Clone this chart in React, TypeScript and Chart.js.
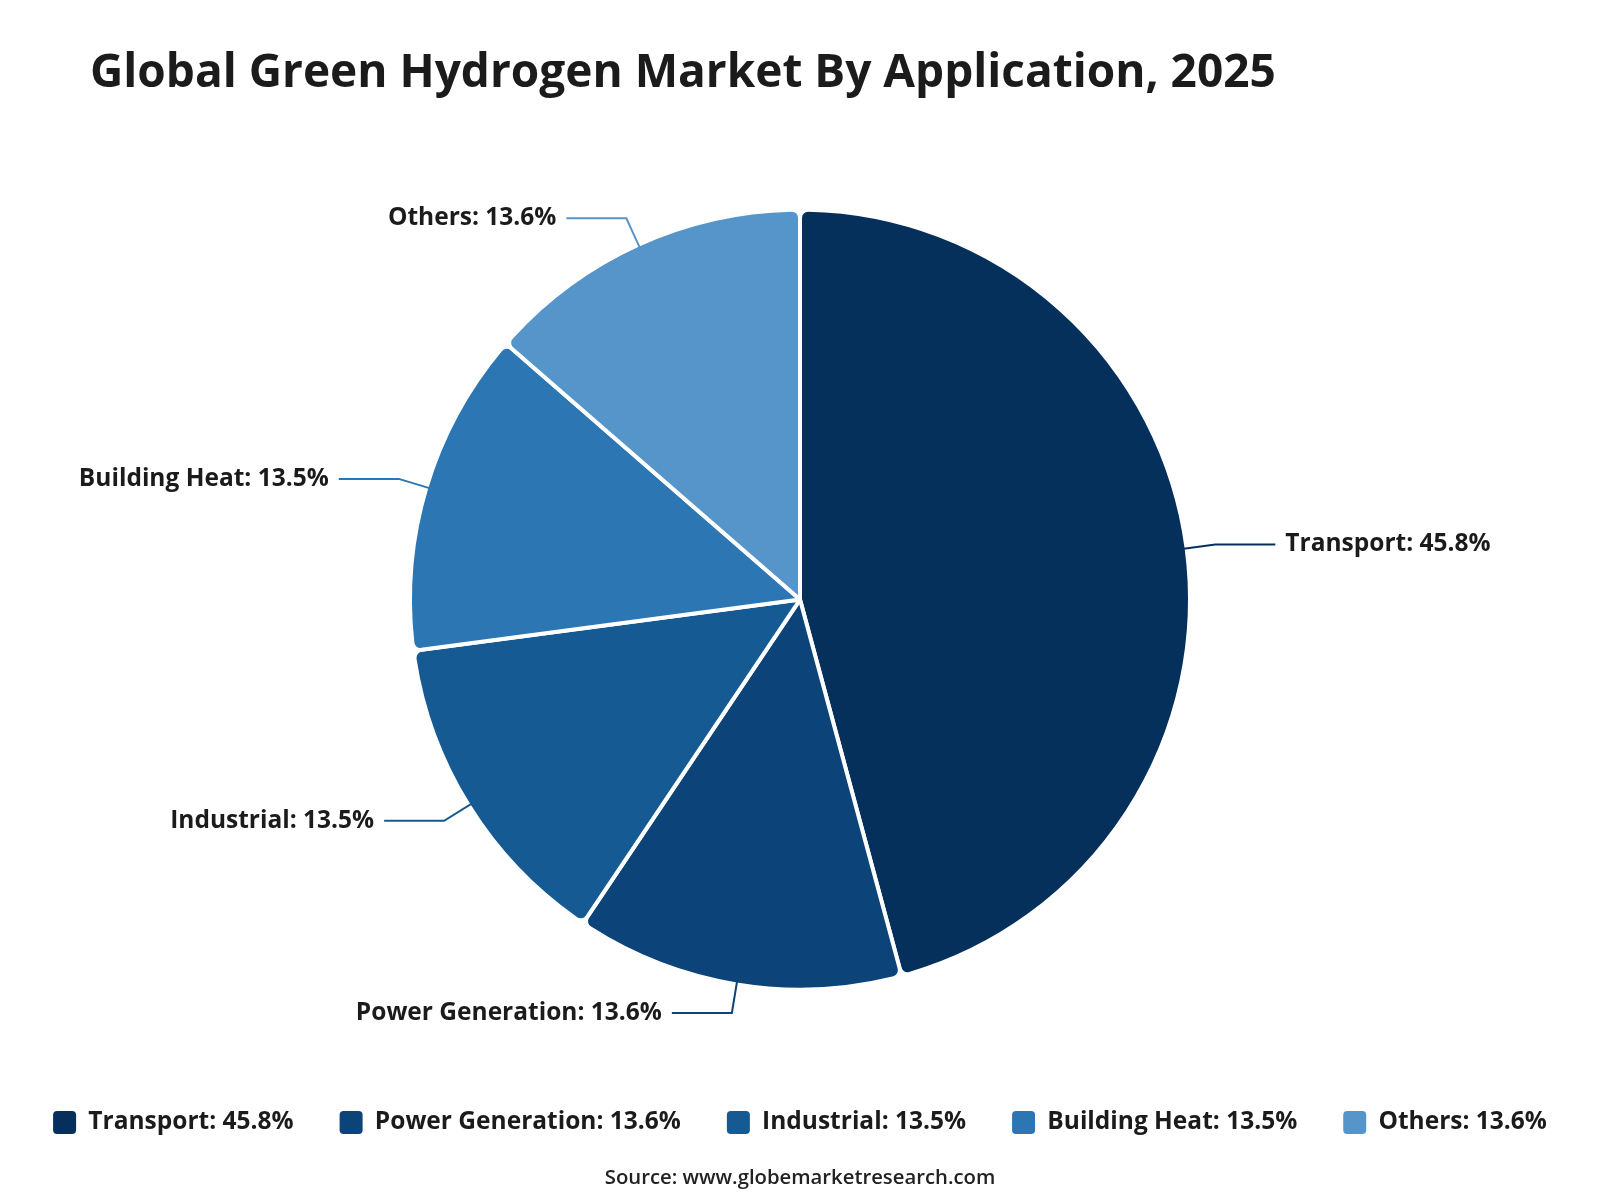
import { useEffect, useRef } from 'react';
import { Chart, registerables } from 'chart.js';

Chart.register(...registerables);

const TITLE = 'Global Green Hydrogen Market By Application, 2025';
const SOURCE = 'Source: www.globemarketresearch.com';

const categories = ['Transport', 'Power Generation', 'Industrial', 'Building Heat', 'Others'];
const shares = [45.8, 13.6, 13.5, 13.5, 13.6];
const sliceColors = ['#06305c', '#0c4378', '#165a94', '#2b76b3', '#5595ca'];

const FONT = '"Open Sans", "Noto Sans", sans-serif';
const TEXT_COLOR = '#1b1b1b';
const LABEL_SIZE = 24.5;

const labelFor = (i: number) => `${categories[i]}: ${shares[i].toFixed(1)}%`;

// Left-aligned heading above the pie
const headingPlugin = {
  id: 'heading',
  afterDraw(chart: any) {
    const ctx = chart.ctx;
    ctx.save();
    ctx.font = `bold 46px ${FONT}`;
    ctx.fillStyle = TEXT_COLOR;
    ctx.textAlign = 'left';
    ctx.textBaseline = 'alphabetic';
    ctx.fillText(TITLE, 90, 87);
    ctx.restore();
  },
};

// Outside labels with elbow leader lines
const calloutPlugin = {
  id: 'callouts',
  afterDatasetsDraw(chart: any) {
    const ctx = chart.ctx;
    const meta = chart.getDatasetMeta(0);
    meta.data.forEach((arc: any, i: number) => {
      const { x, y, startAngle, endAngle, outerRadius } = arc.getProps(
        ['x', 'y', 'startAngle', 'endAngle', 'outerRadius'],
        true
      );
      const mid = (startAngle + endAngle) / 2;
      const c = Math.cos(mid);
      const s = Math.sin(mid);
      const r0 = outerRadius - 3;
      const r1 = outerRadius + 29;
      const x0 = x + c * r0;
      const y0 = y + s * r0;
      const x1 = x + c * r1;
      const y1 = y + s * r1;
      const dir = c >= 0 ? 1 : -1;
      const x2 = x1 + dir * 60;

      ctx.save();
      ctx.strokeStyle = sliceColors[i];
      ctx.lineWidth = 2;
      ctx.beginPath();
      ctx.moveTo(x0, y0);
      ctx.lineTo(x1, y1);
      ctx.lineTo(x2, y1);
      ctx.stroke();

      ctx.font = `bold ${LABEL_SIZE}px ${FONT}`;
      ctx.fillStyle = TEXT_COLOR;
      ctx.textAlign = dir > 0 ? 'left' : 'right';
      ctx.textBaseline = 'middle';
      ctx.fillText(labelFor(i), x2 + dir * 10, y1);
      ctx.restore();
    });
  },
};

export default function App() {
  const canvasRef = useRef<HTMLCanvasElement | null>(null);

  useEffect(() => {
    if (!canvasRef.current) return;
    const chart = new Chart(canvasRef.current, {
      type: 'pie',
      data: {
        labels: categories,
        datasets: [
          {
            data: shares,
            backgroundColor: sliceColors,
            borderColor: '#ffffff',
            borderWidth: 4,
            borderRadius: { outerStart: 8, outerEnd: 8, innerStart: 0, innerEnd: 0 },
            radius: 390,
          } as any,
        ],
      },
      options: {
        responsive: false,
        animation: false,
        layout: { padding: { top: 135, bottom: 10, left: 0, right: 0 } },
        plugins: {
          title: { display: false },
          tooltip: { enabled: false },
          legend: {
            display: true,
            position: 'bottom',
            labels: {
              font: { family: FONT, size: LABEL_SIZE, weight: 'bold' },
              color: TEXT_COLOR,
              boxWidth: 23,
              boxHeight: 23,
              padding: 46,
              useBorderRadius: true,
              borderRadius: 4,
              generateLabels: () =>
                categories.map((_, i) => ({
                  text: labelFor(i),
                  fillStyle: sliceColors[i],
                  strokeStyle: sliceColors[i],
                  lineWidth: 0,
                  fontColor: TEXT_COLOR,
                  hidden: false,
                  index: i,
                  borderRadius: 4,
                })),
            },
          },
          subtitle: {
            display: true,
            position: 'bottom',
            text: SOURCE,
            color: '#222222',
            font: { family: FONT, size: 20.3, weight: '600' },
            padding: { top: 21, bottom: 0 },
          },
        },
      },
      plugins: [headingPlugin, calloutPlugin],
    });
    return () => chart.destroy();
  }, []);

  return (
    <div style={{ position: 'absolute', left: 0, top: 0, width: 1600, height: 1200, background: '#ffffff' }}>
      <canvas ref={canvasRef} width={1600} height={1200} />
    </div>
  );
}
